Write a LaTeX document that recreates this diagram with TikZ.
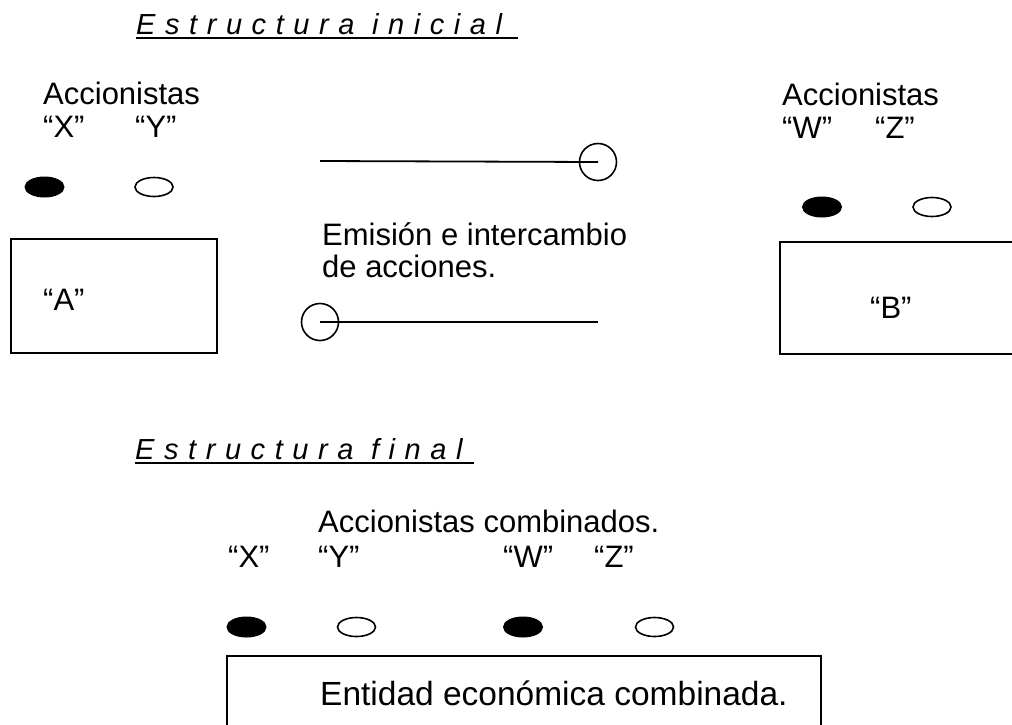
\documentclass[tikz,border=0pt]{standalone}
\usepackage{fontspec}
\setmainfont{Liberation Sans}
\newfontfamily\titlefont[LetterSpace=33]{Liberation Sans}
\usetikzlibrary{shapes.geometric}
\tikzset{
  txt/.style={anchor=base west, inner sep=0pt, font=\fontsize{31}{36}\selectfont},
  bigtxt/.style={anchor=base west, inner sep=0pt, font=\fontsize{33.5}{38}\selectfont},
  ttl/.style={anchor=base west, inner sep=0pt, font=\titlefont\itshape\fontsize{29}{34}\selectfont},
  fullov/.style={ellipse, fill=black, draw=black, line width=1pt, minimum width=39pt, minimum height=20pt, inner sep=0pt},
  openov/.style={ellipse, fill=white, draw=black, line width=1.6pt, minimum width=38pt, minimum height=19pt, inner sep=0pt},
  frame/.style={draw=black, line width=2pt},
  ring/.style={circle, draw=black, line width=1.6pt, minimum size=37pt, inner sep=0pt},
  conn/.style={draw=black, line width=1.8pt},
  uline/.style={draw=black, line width=2pt}
}
\begin{document}
\begin{tikzpicture}[x=1pt,y=-1pt]
\clip (0,0) rectangle (1012,724);
\fill[white] (0,0) rectangle (1012,724);

% ---- Estructura inicial
\node[ttl] (t1) at (136,34) {Estructura\ inicial};
\draw[uline] (136,38) -- (518,38);

% left group
\node[txt] (accL) at (43,104) {Accionistas};
\node[txt] (qx) at (43,137) {“X”};
\node[txt] (qy) at (135,137) {“Y”};
\node[fullov] (ox) at (44.5,187) {};
\node[openov] (oy) at (154,187) {};
\node[frame, anchor=north west, minimum width=206pt, minimum height=114pt, inner sep=0pt] (boxA) at (10,238) {};
\node[txt] (la) at (43,310) {“A”};

% middle
\coordinate (ls1) at (320,161);
\node[ring] (r1) at (598,162) {};
\draw[conn] (ls1) -- (r1.center);
\node[txt] (em1) at (322,245) {Emisión e intercambio};
\node[txt] (em2) at (322,277) {de acciones.};
\node[ring] (r2) at (320,322) {};
\coordinate (le2) at (598,322);
\draw[conn] (r2.center) -- (le2);

% right group
\node[txt] (accR) at (782,105) {Accionistas};
\node[txt] (qw) at (782,138) {“W”};
\node[txt] (qz) at (875,138) {“Z”};
\node[fullov] (ow) at (822,207) {};
\node[openov] (oz) at (932,207) {};
\node[frame, anchor=north west, minimum width=260pt, minimum height=112pt, inner sep=0pt] (boxB) at (779,241) {};
\node[txt] (lb) at (870,318) {“B”};

% ---- Estructura final
\node[ttl] (t2) at (135,459) {Estructura\ final};
\draw[uline] (135,463) -- (474,463);

\node[txt] (accC) at (318,532) {Accionistas combinados.};
\node[txt] (cx) at (228,567) {“X”};
\node[txt] (cy) at (318,567) {“Y”};
\node[txt] (cw) at (503,567) {“W”};
\node[txt] (cz) at (594,567) {“Z”};
\node[fullov] (dx) at (246.5,627) {};
\node[openov] (dy) at (356.5,627) {};
\node[fullov] (dw) at (523,627) {};
\node[openov] (dz) at (654.5,627) {};
\node[frame, anchor=north west, minimum width=594pt, minimum height=100pt, inner sep=0pt] (boxC) at (226,655) {};
\node[bigtxt] (ent) at (320,705) {Entidad económica combinada.};
\end{tikzpicture}
\end{document}
